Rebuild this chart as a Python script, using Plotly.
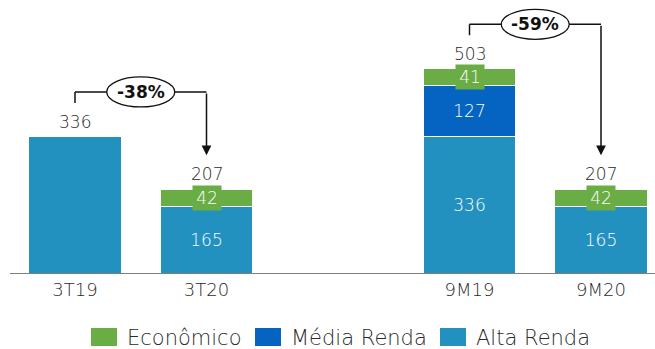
import plotly.graph_objects as go

# Lançamentos por segmento (R$ milhões)
categories = ["3T19", "3T20", "9M19", "9M20"]
positions = [0, 1, 3, 4]          # gap between the quarterly and year-to-date groups
alta_renda = [336, 165, 336, 165]
media_renda = [0, 0, 127, 0]
economico = [0, 42, 41, 42]
totals = [336, 207, 503, 207]     # reported totals (rounded)

# Period-over-period comparisons: (from index, to index, label)
comparisons = [(0, 1, "-38%"), (2, 3, "-59%")]

C_ECON = "#6AAD45"
C_MEDIA = "#0563C1"
C_ALTA = "#2391C0"
TXT = "#2a2a2a"
FONT = "DejaVu Sans"
LIGHT = 200

W, H = 655, 349
ML, MB = 10, 76
PLOT_H = H - MB
PX_PER_UNIT = 0.405
Y_MAX = PLOT_H / PX_PER_UNIT
X_UNIT_PX = 131.5
X0_PX = 75


def seg_text(vals):
    return [str(v) if v else "" for v in vals]


seg_font = dict(color="white", size=17, family=FONT, weight=LIGHT)

fig = go.Figure()
fig.add_trace(go.Bar(
    x=positions, y=alta_renda, name="Alta Renda", marker_color=C_ALTA,
    marker_line=dict(color="white", width=1),
    text=[str(alta_renda[i]) if (media_renda[i] or economico[i]) else "" for i in range(len(positions))],
    textposition="inside", insidetextanchor="middle", textangle=0,
    textfont=seg_font, width=0.70,
))
fig.add_trace(go.Bar(
    x=positions, y=media_renda, name="Média Renda", marker_color=C_MEDIA,
    marker_line=dict(color="white", width=1),
    text=seg_text(media_renda), textposition="inside", insidetextanchor="middle",
    textangle=0, textfont=seg_font, width=0.70,
))
fig.add_trace(go.Bar(
    x=positions, y=economico, name="Econômico", marker_color=C_ECON,
    marker_line=dict(color="white", width=1), width=0.70,
))

annotations = []
shapes = []

for i, p in enumerate(positions):
    top = alta_renda[i] + media_renda[i] + economico[i]
    # Green segment labels sit in small boxes of the segment colour
    if economico[i]:
        base = alta_renda[i] + media_renda[i]
        annotations.append(dict(
            x=p, y=base + economico[i] / 2, text=str(economico[i]), showarrow=False,
            font=seg_font, bgcolor=C_ECON,
            width=28, height=24, borderpad=0, xanchor="center", yanchor="middle",
        ))
    # Totals above each bar
    annotations.append(dict(
        x=p, y=top, text=str(totals[i]), showarrow=False, yshift=15,
        font=dict(color=TXT, size=17, family=FONT, weight=LIGHT),
        xanchor="center", yanchor="middle",
    ))

# Bracket arrows with the percentage change in an oval
GAP = 84
RISE = 27
OVAL_W = 68 / X_UNIT_PX
OVAL_H = 30 / PX_PER_UNIT
for i0, i1, label in comparisons:
    xa, xb = positions[i0], positions[i1]
    y_start = totals[i0] + GAP
    y_top = y_start + RISE
    y_tip = totals[i1] + GAP
    line = dict(color="#111111", width=1.5)
    shapes.append(dict(type="line", x0=xa, x1=xa, y0=y_start, y1=y_top, xref="x", yref="y", line=line))
    shapes.append(dict(type="line", x0=xa, x1=xb, y0=y_top, y1=y_top, xref="x", yref="y", line=line))
    annotations.append(dict(
        x=xb, y=y_tip, ax=xb, ay=y_top, axref="x", ayref="y", xref="x", yref="y",
        text="", showarrow=True, arrowhead=2, arrowsize=1.3, arrowwidth=1.5,
        arrowcolor="#111111",
    ))
    cx = (xa + xb) / 2
    shapes.append(dict(
        type="circle", xref="x", yref="y", x0=cx - OVAL_W / 2, x1=cx + OVAL_W / 2,
        y0=y_top - OVAL_H / 2, y1=y_top + OVAL_H / 2,
        fillcolor="white", line=dict(color="#111111", width=1.3), layer="above",
    ))
    annotations.append(dict(
        x=cx, y=y_top, text=f"<b>{label}</b>", showarrow=False,
        font=dict(color="#111111", size=17, family=FONT),
    ))

# Legend drawn with pixel-sized swatches below the axis
PLOT_W = W - ML


def px_x(px):
    return (px - ML) / PLOT_W


def px_y(py):
    return (PLOT_H - py) / PLOT_H


legend_items = [("Econômico", C_ECON, 91), ("Média Renda", C_MEDIA, 255), ("Alta Renda", C_ALTA, 440)]
for name, color, sx in legend_items:
    shapes.append(dict(
        type="rect", xref="paper", yref="paper", x0=px_x(sx), x1=px_x(sx + 26),
        y0=px_y(346), y1=px_y(328), fillcolor=color, line=dict(width=0),
    ))
    annotations.append(dict(
        xref="paper", yref="paper", x=px_x(sx + 34), y=px_y(338), text=name,
        showarrow=False, xanchor="left", yanchor="middle",
        font=dict(color=TXT, size=21, family=FONT, weight=LIGHT),
    ))

fig.update_layout(
    barmode="stack", width=W, height=H,
    margin=dict(l=ML, r=0, t=0, b=MB),
    paper_bgcolor="white", plot_bgcolor="white",
    showlegend=False,
    font=dict(family=FONT, color=TXT),
    xaxis=dict(
        tickmode="array", tickvals=positions, ticktext=categories,
        range=[(ML - X0_PX) / X_UNIT_PX, (W - X0_PX) / X_UNIT_PX],
        showline=True, linecolor="#7f7f7f", linewidth=1, showgrid=False,
        zeroline=False, ticks="", tickfont=dict(size=18, color=TXT, family=FONT, weight=LIGHT),
        ticklabelstandoff=0,
    ),
    yaxis=dict(range=[0, Y_MAX], visible=False, showgrid=False, zeroline=False),
    annotations=annotations, shapes=shapes,
)

fig.write_html("out.html")
